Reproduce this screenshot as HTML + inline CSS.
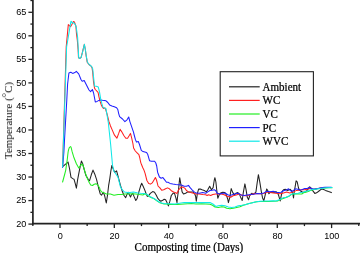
<!DOCTYPE html>
<html><head><meta charset="utf-8"><style>
html,body{margin:0;padding:0;background:#fff;}
body{width:360px;height:253px;overflow:hidden;}
svg{display:block;}
text{will-change:transform;}
.tl{font-family:"Liberation Sans",sans-serif;font-size:9.6px;fill:#000;}
.lg{font-family:"Liberation Serif",serif;font-size:12px;fill:#000;stroke:#000;stroke-width:0.25px;}
.tt{font-family:"Liberation Serif",serif;font-size:11px;fill:#111;}
.xt{font-family:"Liberation Serif",serif;font-size:12px;fill:#000;stroke:#000;stroke-width:0.25px;}
</style></head><body>
<svg width="360" height="253" viewBox="0 0 360 253">
<line x1="32.9" y1="0" x2="32.9" y2="224.45" stroke="#222" stroke-width="1.7"/>
<line x1="32.05" y1="223.6" x2="360" y2="223.6" stroke="#222" stroke-width="1.7"/>
<line x1="28.4" y1="224.10" x2="32.9" y2="224.10" stroke="#222" stroke-width="1.3"/>
<text transform="translate(26.3,226.90) scale(0.95,1)" text-anchor="end" class="tl">20</text>
<line x1="30.4" y1="212.33" x2="32.9" y2="212.33" stroke="#222" stroke-width="1.3"/>
<line x1="28.4" y1="200.57" x2="32.9" y2="200.57" stroke="#222" stroke-width="1.3"/>
<text transform="translate(26.3,203.37) scale(0.95,1)" text-anchor="end" class="tl">25</text>
<line x1="30.4" y1="188.80" x2="32.9" y2="188.80" stroke="#222" stroke-width="1.3"/>
<line x1="28.4" y1="177.03" x2="32.9" y2="177.03" stroke="#222" stroke-width="1.3"/>
<text transform="translate(26.3,179.83) scale(0.95,1)" text-anchor="end" class="tl">30</text>
<line x1="30.4" y1="165.27" x2="32.9" y2="165.27" stroke="#222" stroke-width="1.3"/>
<line x1="28.4" y1="153.50" x2="32.9" y2="153.50" stroke="#222" stroke-width="1.3"/>
<text transform="translate(26.3,156.30) scale(0.95,1)" text-anchor="end" class="tl">35</text>
<line x1="30.4" y1="141.73" x2="32.9" y2="141.73" stroke="#222" stroke-width="1.3"/>
<line x1="28.4" y1="129.97" x2="32.9" y2="129.97" stroke="#222" stroke-width="1.3"/>
<text transform="translate(26.3,132.77) scale(0.95,1)" text-anchor="end" class="tl">40</text>
<line x1="30.4" y1="118.20" x2="32.9" y2="118.20" stroke="#222" stroke-width="1.3"/>
<line x1="28.4" y1="106.43" x2="32.9" y2="106.43" stroke="#222" stroke-width="1.3"/>
<text transform="translate(26.3,109.23) scale(0.95,1)" text-anchor="end" class="tl">45</text>
<line x1="30.4" y1="94.67" x2="32.9" y2="94.67" stroke="#222" stroke-width="1.3"/>
<line x1="28.4" y1="82.90" x2="32.9" y2="82.90" stroke="#222" stroke-width="1.3"/>
<text transform="translate(26.3,85.70) scale(0.95,1)" text-anchor="end" class="tl">50</text>
<line x1="30.4" y1="71.13" x2="32.9" y2="71.13" stroke="#222" stroke-width="1.3"/>
<line x1="28.4" y1="59.37" x2="32.9" y2="59.37" stroke="#222" stroke-width="1.3"/>
<text transform="translate(26.3,62.17) scale(0.95,1)" text-anchor="end" class="tl">55</text>
<line x1="30.4" y1="47.60" x2="32.9" y2="47.60" stroke="#222" stroke-width="1.3"/>
<line x1="28.4" y1="35.83" x2="32.9" y2="35.83" stroke="#222" stroke-width="1.3"/>
<text transform="translate(26.3,38.63) scale(0.95,1)" text-anchor="end" class="tl">60</text>
<line x1="30.4" y1="24.07" x2="32.9" y2="24.07" stroke="#222" stroke-width="1.3"/>
<line x1="28.4" y1="12.30" x2="32.9" y2="12.30" stroke="#222" stroke-width="1.3"/>
<text transform="translate(26.3,15.10) scale(0.95,1)" text-anchor="end" class="tl">65</text>
<line x1="30.4" y1="0.53" x2="32.9" y2="0.53" stroke="#222" stroke-width="1.3"/>
<line x1="32.84" y1="223.6" x2="32.84" y2="226.1" stroke="#222" stroke-width="1.3"/>
<line x1="60.00" y1="223.6" x2="60.00" y2="228.1" stroke="#222" stroke-width="1.3"/>
<text transform="translate(60.20,239.2) scale(0.95,1)" text-anchor="middle" class="tl">0</text>
<line x1="87.16" y1="223.6" x2="87.16" y2="226.1" stroke="#222" stroke-width="1.3"/>
<line x1="114.32" y1="223.6" x2="114.32" y2="228.1" stroke="#222" stroke-width="1.3"/>
<text transform="translate(114.52,239.2) scale(0.95,1)" text-anchor="middle" class="tl">20</text>
<line x1="141.48" y1="223.6" x2="141.48" y2="226.1" stroke="#222" stroke-width="1.3"/>
<line x1="168.64" y1="223.6" x2="168.64" y2="228.1" stroke="#222" stroke-width="1.3"/>
<text transform="translate(168.84,239.2) scale(0.95,1)" text-anchor="middle" class="tl">40</text>
<line x1="195.80" y1="223.6" x2="195.80" y2="226.1" stroke="#222" stroke-width="1.3"/>
<line x1="222.96" y1="223.6" x2="222.96" y2="228.1" stroke="#222" stroke-width="1.3"/>
<text transform="translate(223.16,239.2) scale(0.95,1)" text-anchor="middle" class="tl">60</text>
<line x1="250.12" y1="223.6" x2="250.12" y2="226.1" stroke="#222" stroke-width="1.3"/>
<line x1="277.28" y1="223.6" x2="277.28" y2="228.1" stroke="#222" stroke-width="1.3"/>
<text transform="translate(277.48,239.2) scale(0.95,1)" text-anchor="middle" class="tl">80</text>
<line x1="304.44" y1="223.6" x2="304.44" y2="226.1" stroke="#222" stroke-width="1.3"/>
<line x1="331.60" y1="223.6" x2="331.60" y2="228.1" stroke="#222" stroke-width="1.3"/>
<text transform="translate(331.80,239.2) scale(0.95,1)" text-anchor="middle" class="tl">100</text>
<line x1="358.76" y1="223.6" x2="358.76" y2="226.1" stroke="#222" stroke-width="1.3"/>
<polyline points="62.7,166.7 65.3,164.3 68.1,162.1 69.6,169.0 71.0,177.4 72.8,178.6 74.0,179.2 75.2,183.4 76.4,188.1 77.6,179.8 79.4,170.3 81.4,161.0 82.6,163.5 84.2,169.5 85.9,175.4 88.3,179.6 89.5,180.8 91.3,174.8 93.0,170.1 94.8,174.2 96.6,179.6 98.6,188.0 100.3,194.0 101.5,195.2 103.3,192.2 104.5,195.2 105.7,200.5 106.3,202.9 107.5,195.2 108.6,185.7 109.8,178.6 110.8,171.3 111.8,165.5 114.7,172.4 116.6,170.8 118.4,177.6 120.4,185.1 122.2,191.0 123.9,195.2 125.7,197.6 126.9,194.6 128.1,192.2 129.3,194.6 130.5,197.0 131.6,194.6 132.8,193.4 134.0,196.4 135.8,200.5 137.0,198.8 138.8,192.2 140.5,186.3 141.7,183.3 142.9,185.7 144.7,189.9 146.2,194.0 147.4,196.4 148.6,195.8 150.3,193.4 152.7,191.6 154.5,192.2 156.3,195.2 158.0,198.7 159.4,200.2 160.8,201.2 162.7,200.2 164.2,199.3 165.6,199.8 167.0,202.6 168.4,205.9 169.9,201.2 171.3,195.5 173.2,193.1 174.6,193.6 176.0,198.3 177.0,202.6 177.4,198.3 178.4,190.7 178.9,186.0 179.7,177.7 180.7,183.4 182.1,191.9 183.5,194.0 185.6,193.3 187.8,191.9 189.9,191.9 192.8,191.9 194.5,193.3 195.6,196.2 196.3,201.2 197.4,193.3 198.6,189.1 200.3,189.1 202.1,189.8 204.3,190.5 206.4,191.9 207.8,189.8 209.7,186.2 211.4,189.8 213.1,187.6 214.2,180.5 214.9,177.7 215.9,182.0 216.8,190.5 217.8,198.3 219.2,194.8 220.6,193.1 222.8,192.3 224.9,192.6 226.3,194.8 227.7,199.0 228.4,202.6 229.9,196.9 231.2,188.6 232.8,192.6 234.3,194.9 235.9,193.3 237.8,192.6 239.4,194.1 241.0,198.1 242.2,200.5 243.3,192.6 244.9,183.9 246.0,189.4 247.3,197.3 248.6,199.7 249.7,195.7 250.8,194.1 252.0,193.3 252.7,194.5 254.3,193.7 255.9,192.1 257.2,182.6 258.4,174.7 259.9,182.6 261.4,192.1 262.5,197.7 263.8,200.8 265.1,195.3 266.7,189.0 267.8,190.6 268.9,193.7 270.5,192.1 272.5,192.1 274.9,192.1 276.0,191.8 277.7,193.0 278.9,196.3 280.2,200.9 281.0,196.8 282.3,191.3 283.5,189.7 285.2,189.3 286.4,189.7 287.7,190.5 288.9,189.7 290.2,189.3 291.4,190.5 292.7,193.0 293.5,198.0 294.3,191.3 295.2,186.3 296.1,180.8 297.2,181.8 298.5,188.0 299.3,189.7 301.0,191.3 302.7,192.2 304.7,192.2 307.1,190.4 309.5,186.9 310.7,187.5 312.5,190.4 314.8,193.4 316.6,192.8 319.0,191.0 321.4,189.2 323.1,189.2 325.5,190.4 328.5,191.6 331.4,192.6" fill="none" stroke="#222" stroke-width="1.05" stroke-linejoin="round" stroke-linecap="round"/>
<polyline points="62.6,167.0 66.2,47.0 68.3,24.6 70.5,26.7 72.0,24.2 73.4,21.5 74.4,22.0 75.2,24.2 75.9,26.0 76.5,34.0 77.3,40.0 78.1,49.5 78.5,57.6 79.5,58.5 81.0,57.6 82.4,52.3 84.3,44.3 85.3,49.5 86.2,56.1 87.2,62.2 89.0,64.5 91.3,66.3 92.1,68.1 92.7,72.2 93.5,81.7 94.5,88.0 95.3,89.5 97.1,91.3 98.1,92.5 98.9,96.6 100.1,101.4 101.3,104.9 102.5,107.3 103.6,108.5 104.8,107.9 105.3,108.3 107.1,114.2 108.9,121.4 110.4,125.7 112.2,129.9 114.5,135.2 116.9,138.2 118.7,133.4 120.1,129.3 121.6,131.6 124.0,135.8 125.8,138.2 127.6,138.2 129.1,135.8 130.5,133.4 131.7,138.2 132.9,143.5 133.6,148.0 135.3,151.0 137.1,152.8 138.9,154.6 139.7,157.5 140.7,162.3 141.3,164.0 142.7,167.5 143.9,169.9 145.1,173.4 146.9,180.5 148.7,183.5 150.5,184.1 152.2,182.9 154.0,179.9 155.4,177.5 156.5,180.0 157.5,183.9 158.0,186.0 159.9,187.9 161.8,190.3 163.7,189.8 165.6,188.8 167.5,187.9 169.4,188.8 171.3,190.7 173.2,191.7 175.1,192.6 177.0,193.4 178.6,189.8 180.7,187.6 182.8,186.9 185.0,188.4 186.4,190.5 188.5,191.9 190.6,192.6 193.5,193.3 196.3,194.0 199.2,194.0 202.8,194.5 205.7,194.8 207.1,195.5 208.5,194.8 210.7,195.5 212.8,194.5 215.6,194.0 218.5,194.0 221.3,194.0 224.2,194.8 227.0,196.2 230.0,196.9 230.7,197.3 233.1,195.7 236.2,194.9 239.4,194.1 242.6,195.4 245.7,195.7 248.9,195.4 251.2,194.5 254.3,193.4 257.5,193.7 260.6,193.7 263.8,193.4 267.0,192.1 270.1,192.5 273.3,192.9 278.0,193.4 280.3,193.7 283.5,192.9 286.6,192.1 289.8,192.9 293.0,192.1 296.1,190.6 299.3,190.2 302.4,189.5 304.7,189.8 307.1,189.2 309.5,188.6 311.9,188.9 314.2,189.2 316.6,188.6 319.0,188.3 321.4,187.8 323.7,187.5 328.5,187.5 331.4,187.5" fill="none" stroke="#ff2020" stroke-width="1.05" stroke-linejoin="round" stroke-linecap="round"/>
<polyline points="62.6,182.0 64.5,175.0 65.7,170.3 67.1,160.8 68.1,152.0 68.6,149.7 69.3,147.7 70.5,146.5 71.0,147.0 72.2,151.9 74.0,157.8 76.4,163.7 78.8,168.0 80.5,165.5 82.3,164.0 83.6,167.1 85.3,173.0 87.1,177.8 88.9,181.9 90.7,184.9 92.5,185.5 94.2,184.3 96.0,183.7 97.8,184.9 99.6,187.9 100.3,190.4 102.1,192.2 103.9,192.8 106.3,194.0 110.4,194.0 114.0,195.2 118.0,194.6 121.6,194.4 125.1,194.0 128.7,194.0 132.2,193.8 135.8,194.0 139.4,194.6 142.9,195.0 145.0,193.8 147.4,195.0 149.7,196.8 152.1,197.9 154.5,199.1 156.9,200.9 159.2,202.4 161.6,203.3 164.0,203.9 166.4,204.1 170.0,204.4 177.1,204.4 184.2,204.0 191.3,203.6 196.0,204.0 201.7,203.8 210.0,204.2 212.5,205.3 215.0,207.0 218.3,207.5 221.7,206.7 224.2,207.0 226.7,208.3 230.0,208.7 233.3,208.3 236.7,207.5 240.0,206.7 243.3,205.3 246.7,204.2 250.0,203.3 253.3,202.5 256.7,201.7 260.0,201.4 263.8,201.5 268.6,201.5 273.3,201.2 278.0,200.9 281.0,199.3 286.0,197.6 289.0,196.3 291.8,194.2 296.0,193.8 300.0,194.0 301.8,194.0 303.6,192.8 305.9,192.2 308.3,191.6 310.7,190.4 313.0,189.8 315.4,189.2 317.8,188.8 321.4,188.3 323.7,188.0 326.1,188.0 328.5,187.8 332.0,187.8" fill="none" stroke="#22ee22" stroke-width="1.05" stroke-linejoin="round" stroke-linecap="round"/>
<polyline points="62.6,167.5 63.9,152.0 64.5,140.0 66.8,100.0 67.6,84.0 68.9,73.0 70.8,72.3 72.7,73.4 74.8,72.6 76.3,71.4 78.7,73.9 81.1,79.8 82.2,81.3 84.2,80.6 86.6,85.3 89.0,90.0 90.6,91.6 92.4,89.5 93.6,93.0 95.3,101.9 97.1,101.4 98.9,100.4 100.7,99.9 102.5,100.2 104.2,100.4 106.0,100.8 107.8,102.5 109.6,104.9 111.9,105.9 114.3,106.7 116.6,107.7 117.8,109.5 118.7,113.6 119.6,116.6 122.5,119.0 124.9,121.6 127.0,119.8 128.7,117.0 129.9,121.6 131.7,126.9 133.5,132.2 134.2,135.0 135.3,139.2 136.5,142.1 138.3,141.5 139.5,144.5 141.3,150.4 143.0,151.6 146.6,152.6 147.8,154.6 149.6,160.8 151.4,161.3 154.6,161.3 155.8,163.0 156.7,166.0 157.6,172.2 159.4,177.0 161.1,178.2 162.9,177.6 164.7,179.9 166.5,182.3 168.0,182.3 170.0,183.4 172.8,184.1 175.7,184.5 178.5,184.8 181.4,185.1 184.2,186.2 186.4,186.2 188.5,185.4 189.9,187.4 192.1,189.8 194.2,191.9 196.3,193.1 199.2,193.3 202.8,192.6 205.7,193.3 207.8,191.9 210.0,190.5 212.1,190.2 214.2,189.8 215.6,190.5 217.1,193.3 219.9,194.0 222.8,193.3 225.6,193.3 227.7,194.8 230.0,195.5 231.5,194.9 234.6,194.1 237.8,193.3 241.0,194.9 244.1,195.4 247.3,194.9 250.5,194.5 254.3,194.0 257.5,193.4 260.6,193.7 263.8,192.9 267.0,191.3 270.1,191.8 273.3,191.3 276.0,192.2 278.5,192.6 281.0,192.2 282.7,191.3 284.3,190.5 286.4,190.1 288.5,188.8 290.2,190.5 291.8,191.3 293.5,190.5 295.6,188.8 297.7,189.3 299.8,190.1 301.8,189.7 304.7,188.5 307.1,188.6 309.5,187.5 311.3,188.6 313.0,189.0 315.4,189.0 317.8,188.6 320.2,188.0 322.5,187.5 324.9,187.2 331.4,187.2" fill="none" stroke="#2020ff" stroke-width="1.05" stroke-linejoin="round" stroke-linecap="round"/>
<polyline points="62.6,167.0 66.6,47.0 70.9,21.3 71.6,21.7 72.3,23.0 73.0,22.8 74.1,23.1 75.2,24.5 76.2,27.0 77.6,37.0 78.3,49.5 78.7,57.6 79.7,58.5 81.1,57.6 82.5,52.3 84.4,44.3 85.4,49.5 86.3,56.1 87.4,62.2 89.2,64.5 91.5,66.3 92.7,68.7 93.3,74.6 94.5,85.9 96.3,86.3 98.3,87.1 99.5,91.9 100.7,99.0 101.9,103.7 103.0,107.3 104.8,108.4 105.9,108.3 107.1,115.4 108.3,122.5 110.6,144.0 112.5,165.0 113.9,171.3 115.9,174.0 118.0,177.2 119.2,181.9 120.4,186.7 122.2,189.6 124.5,192.0 127.5,192.6 129.9,192.6 133.4,192.0 137.0,192.8 140.5,193.2 144.1,193.4 147.4,194.6 149.7,196.4 152.1,197.5 154.5,198.7 156.9,200.5 159.2,202.0 161.6,202.9 164.0,203.5 166.4,203.7 168.7,203.8 175.0,204.1 184.2,202.6 191.3,202.6 196.0,202.6 210.0,202.5 213.3,204.2 215.8,206.5 218.3,205.8 221.7,205.3 225.0,205.8 228.3,207.0 231.7,207.5 235.0,207.0 238.3,205.8 241.7,205.3 245.0,204.7 248.3,203.7 251.7,203.0 255.0,202.0 260.0,201.3 265.0,200.9 268.6,201.0 273.3,200.8 276.0,200.9 278.5,200.1 281.0,198.8 283.5,197.6 286.0,197.2 288.5,196.3 290.6,194.7 292.7,193.8 295.2,193.8 297.7,193.4 300.2,192.6 302.7,192.2 306.0,191.3 309.5,190.4 312.0,189.6 315.0,189.2 318.3,188.7 322.0,188.2 326.7,187.8 332.0,187.6" fill="none" stroke="#10e8e8" stroke-width="1.05" stroke-linejoin="round" stroke-linecap="round"/>
<rect x="220.2" y="71.7" width="93.2" height="84.2" fill="#fff" stroke="#222" stroke-width="1.1"/>
<line x1="229" y1="86.80" x2="259.7" y2="86.80" stroke="#222" stroke-width="1.2"/>
<text transform="translate(262.6,90.70) scale(0.9167,1)" class="lg">Ambient</text>
<line x1="229" y1="100.40" x2="259.7" y2="100.40" stroke="#ff2020" stroke-width="1.2"/>
<text transform="translate(262.6,104.30) scale(0.9167,1)" class="lg">WC</text>
<line x1="229" y1="114.00" x2="259.7" y2="114.00" stroke="#22ee22" stroke-width="1.2"/>
<text transform="translate(262.6,117.90) scale(0.9167,1)" class="lg">VC</text>
<line x1="229" y1="127.60" x2="259.7" y2="127.60" stroke="#2020ff" stroke-width="1.2"/>
<text transform="translate(262.6,131.50) scale(0.9167,1)" class="lg">PC</text>
<line x1="229" y1="141.20" x2="259.7" y2="141.20" stroke="#10e8e8" stroke-width="1.2"/>
<text transform="translate(262.6,145.10) scale(0.9167,1)" class="lg">WVC</text>
<text transform="translate(134.6,250.6) scale(0.9167,1)" class="xt">Composting time (Days)</text>
<text transform="translate(12,159.2) rotate(-90)" class="tt">Temperature (<tspan dy="-1.8">°</tspan><tspan dy="1.8">C)</tspan></text>
</svg>
</body></html>
